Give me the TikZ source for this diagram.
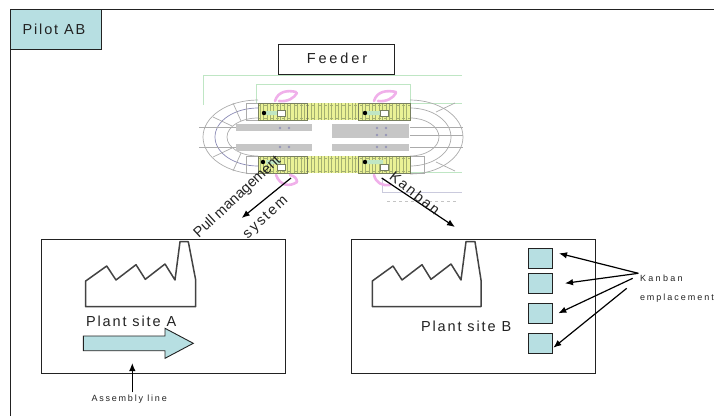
\documentclass[tikz,border=0pt]{standalone}
\usepackage{fontspec}
\usetikzlibrary{arrows.meta}
\setmainfont{Liberation Sans}
\newfontfamily\lsa[LetterSpace=13]{Liberation Sans}
\newfontfamily\lsb[LetterSpace=20]{Liberation Sans}
\newfontfamily\lsc[LetterSpace=26]{Liberation Sans}
\newfontfamily\lsd[LetterSpace=22]{Liberation Sans}
\definecolor{teal}{HTML}{B7DFE2}
\definecolor{lineK}{HTML}{222222}
\definecolor{trackG}{HTML}{ABABAB}
\definecolor{trackB}{HTML}{8A8AB4}
\definecolor{paleG}{HTML}{BFE6C4}
\definecolor{barG}{HTML}{C6C6C6}
\definecolor{yel}{HTML}{EAF296}
\definecolor{tick}{HTML}{A4B070}
\definecolor{cab}{HTML}{788060}
\definecolor{pinkS}{HTML}{F0B0EA}
\tikzset{
  lab/.style={inner sep=0pt,outer sep=0pt,anchor=base west,text=lineK},
  big/.style={font=\fontsize{14.5}{17}\selectfont\lsa},
  rotlab/.style={inner sep=0pt,outer sep=0pt,text=lineK,font=\fontsize{14.5}{17}\selectfont},
  thebox/.style={draw=lineK,line width=0.9pt,inner sep=0pt,outer sep=0pt},
  tealbox/.style={thebox,fill=teal},
  plantbox/.style={thebox,minimum width=244pt,minimum height=134pt},
  kanbox/.style={tealbox,minimum width=24.4pt,minimum height=20pt},
  arr/.style={draw=black,line width=1.2pt,-{Latex[length=8pt,width=6.5pt]}},
  factory/.style={draw=lineK!85,line width=1.5pt,line join=round},
  track/.style={draw=trackG,line width=0.7pt},
  trackb/.style={draw=trackB,line width=0.7pt},
  pale/.style={draw=paleG,line width=0.8pt},
  bar/.style={fill=barG,draw=none},
  swirl/.style={draw=pinkS,line width=2.6pt,line cap=round},
  dotb/.style={fill=trackB,draw=none,opacity=0.8},
  cabin/.style={draw=cab,line width=0.9pt},
  whitebox/.style={fill=white,draw=cab,line width=0.5pt}
}
\begin{document}
\begin{tikzpicture}[x=1pt,y=-1pt]
\useasboundingbox (0,0) rectangle (714,416);
% frame
\draw[draw=lineK,line width=1pt] (10.5,416) -- (10.5,9.2) -- (714,9.2);
% ---------- feeder drawing
\draw[pale] (203,105) -- (203,75) -- (462,75);
\draw[pale] (256,103) -- (256,84) -- (410,84) -- (410,103);
\draw[pale] (410,103) -- (462,103);
\draw[pale] (410,172) -- (462,172);
\draw[draw=trackB!45,line width=0.8pt] (382,178) -- (382,192) -- (462,192);
\draw[draw=trackG!70,line width=0.8pt,dashed] (387,201) -- (456,201);
% tracks, left
\draw[track] (258,100) arc[start angle=270,end angle=90,x radius=55,y radius=37];
\draw[trackb] (258,108) arc[start angle=270,end angle=90,x radius=43,y radius=29];
\draw[track] (258,118) arc[start angle=270,end angle=90,x radius=31,y radius=19];
\draw[track] (213,117) -- (232,126) (213,157) -- (232,148) (233,103) -- (241,121) (233,171) -- (241,153);
\draw[track] (199,127) -- (236,127) (199,147) -- (236,147);
\draw[track] (246,103) rectangle (258,120) (246,156) rectangle (258,173);
% tracks, right
\draw[track] (410,100) arc[start angle=270,end angle=450,x radius=53,y radius=37];
\draw[track] (410,108) arc[start angle=270,end angle=450,x radius=41,y radius=29];
\draw[track] (410,118) arc[start angle=270,end angle=450,x radius=29,y radius=19];
\draw[track] (436,112) -- (455,103) (436,162) -- (455,171);
\draw[track] (410,127) -- (463,127) (410,135) -- (463,135) (410,147) -- (463,147);
\draw[track] (410,156) rectangle (424,173);
% bars
\fill[bar] (236,124) rectangle (312,131);
\fill[bar] (236,144) rectangle (312,151);
\fill[bar] (332,124) rectangle (409,138);
\fill[bar] (332,144) rectangle (409,151);
\foreach \p in {(280,128),(289,128),(377,128),(386,128),(377,135),(386,135),(280,147),(289,147),(377,147),(386,147)}
  \fill[dotb] \p circle (1.3);
% conveyor bands
\foreach \yy in {103,156}{
  \fill[yel] (258,\yy) rectangle (410,\yy+17);
  \foreach \xx in {260,263.4,...,409}
    \draw[tick,line width=0.5pt] (\xx,\yy) -- (\xx,\yy+17);
  \draw[tick,line width=0.6pt,dashed] (258,\yy+2) -- (410,\yy+2) (258,\yy+15) -- (410,\yy+15);
  \draw[cabin] (258,\yy) rectangle (307,\yy+17);
  \draw[cabin] (358,\yy) rectangle (410,\yy+17);
}
% cabin details
\fill[paleG] (266,111) rectangle (280,115) (367,111) rectangle (383,115) (266,160) rectangle (280,164) (367,160) rectangle (383,164);
\foreach \p in {(264,113),(365,113),(263,162),(365,162)}
  \fill[black] \p circle (2.2);
\draw[whitebox] (277,110) rectangle (285,116);
\draw[whitebox] (380,110) rectangle (388,116);
\draw[whitebox] (277,164) rectangle (285,170);
\draw[whitebox] (380,164) rectangle (388,170);
% pink swirls
\draw[swirl] (275,101) .. controls (278,91) and (288,90) .. (296,92);
\draw[swirl] (279,101) .. controls (288,102) and (294,98) .. (297,93);
\draw[swirl] (374,101) .. controls (377,91) and (387,90) .. (396,92);
\draw[swirl] (378,101) .. controls (387,102) and (393,98) .. (396,93);
\draw[swirl] (276,175) .. controls (280,186) and (290,187) .. (297,182);
\draw[swirl] (290,175) .. controls (295,176) and (297,179) .. (297,182);
\draw[swirl] (374,175) .. controls (376,183) and (382,186) .. (390,185);
% ---------- title boxes
\node[tealbox,minimum width=91pt,minimum height=40pt] (pilot) at (55.5,29) {};
\node[lab,big] (pilotT) at (22.5,34) {Pilot AB};
\node[thebox,fill=white,minimum width=116pt,minimum height=30pt] (feeder) at (336,59) {};
\node[inner sep=0pt,text=lineK,anchor=base,font=\fontsize{14.5}{17}\selectfont\lsb] (feederT) at (337,63) {Feeder};
% ---------- plant A
\node[plantbox] (plantA) at (163,306) {};
\draw[factory] (85.7,281) -- (106.7,266) -- (116,280) -- (136,264.7) -- (145.3,279.3) -- (165,264) -- (175,280) -- (180,241.7) -- (188.3,241.7) -- (195.7,280) -- (195.7,306.7) -- (85.7,306.7) -- cycle;
\node[lab,big] (siteA) at (86,326.7) {Plant site A};
\draw[draw=lineK,line width=0.9pt,fill=teal] (83.3,336) -- (165,336) -- (165,328.3) -- (193.3,343.3) -- (165,358.3) -- (165,350.7) -- (83.3,350.7) -- cycle;
\node[lab,font=\fontsize{9}{11}\selectfont\lsb] (asm) at (91.5,401) {Assembly line};
\coordinate (asmTip) at (132.3,363);
\draw[arr] (asm.north -| asmTip) ++(0,-2) -- (asmTip);
% ---------- plant B
\node[plantbox] (plantB) at (473.7,306) {};
\draw[factory] (372.3,281) -- (393,266) -- (402,280) -- (422,264.7) -- (431,279.3) -- (451,264) -- (461,280) -- (466,241.7) -- (475,241.7) -- (481,280) -- (481,306.7) -- (372.3,306.7) -- cycle;
\node[lab,big] (siteB) at (421,331.7) {Plant site B};
\node[kanbox] (k1) at (540.5,258.5) {};
\node[kanbox] (k2) at (540.5,283.3) {};
\node[kanbox] (k3) at (540.5,313.3) {};
\node[kanbox] (k4) at (540.5,343.3) {};
% kanban labels
\node[lab,font=\fontsize{9}{11}\selectfont\lsc] (kan) at (640,281.7) {Kanban};
\node[lab,font=\fontsize{9}{11}\selectfont\lsd] (emp) at (640,300.7) {emplacement};
\coordinate (f1) at (638.3,273.3);
\coordinate (f3) at (632.7,278.3);
\coordinate (f4) at (626.7,288.3);
\coordinate (t1) at (559,253.3);
\coordinate (t2) at (565,283.3);
\coordinate (t3) at (558.3,313.3);
\coordinate (t4) at (553.3,347.7);
\draw[arr] (f1) -- (t1);
\draw[arr] (f1) -- (t2);
\draw[arr] (f3) -- (t3);
\draw[arr] (f4) -- (t4);
% ---------- feeder to plants
\coordinate (pullS) at (291,178);
\coordinate (pullE) at (241.7,218);
\coordinate (kanS) at (381.7,178);
\coordinate (kanE) at (455,227);
\draw[arr] (pullS) -- (pullE);
\draw[arr] (kanS) -- (kanE);
\node[rotlab,rotate=43] (pullT) at (237.5,197) {Pull management};
\node[rotlab,rotate=43,font=\fontsize{14.5}{17}\selectfont\lsa] (sysT) at (266,218) {system};
\node[rotlab,rotate=-39,font=\fontsize{14.5}{17}\selectfont\lsa] (kanT) at (415,193) {Kanban};
\end{tikzpicture}
\end{document}
